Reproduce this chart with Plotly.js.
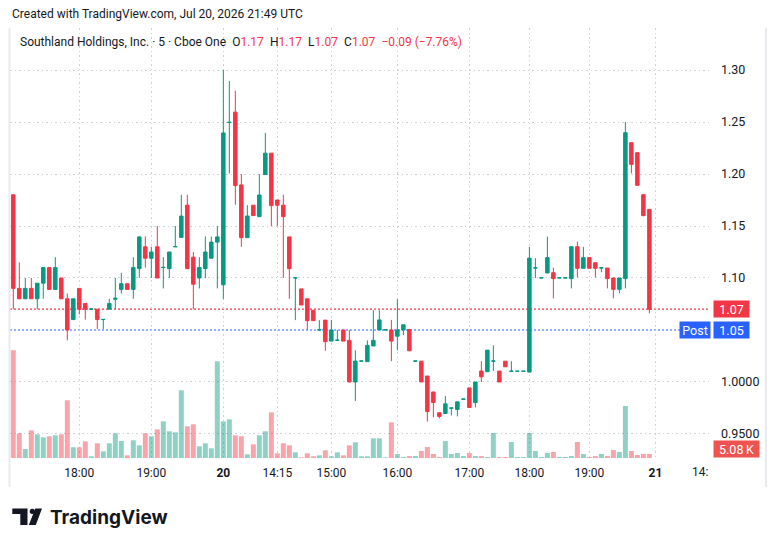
<!DOCTYPE html>
<html><head><meta charset="utf-8">
<script src="https://cdn.plot.ly/plotly-3.0.1.min.js"></script>
<style>html,body{margin:0;padding:0;background:#fff;}#chart{width:776px;height:546px;}</style>
</head><body><div id="chart"></div>
<script>
// ---------- DATA (5-minute bars) ----------
const openP = [1.18,1.09,1.08,1.09,1.08,1.095,1.11,1.089,1.10,1.08,
1.06,1.09,1.0755,1.07,1.07,1.06,1.07,1.0795,1.089,1.0945,
1.089,1.109,1.13,1.119,1.13,1.11,1.109,1.13,1.139,1.17,
1.12,1.10,1.109,1.119,1.1345,1.0935,1.2495,1.2595,1.1895,1.1388,
1.17,1.159,1.1995,1.22,1.175,1.17,1.1395,1.10,1.0895,1.08,
1.069,1.05,1.0595,1.0393,1.04,1.05,1.04,1.00,1.02,1.0195,
1.0346,1.05,1.05,1.05,1.044,1.05,1.0505,1.02,1.02,1.0057,
0.9904,0.9704,0.9697,0.9748,0.9736,0.9834,0.9943,0.9802,1.0105,1.0099,
1.02,1.0105,1.02,1.0102,1.0102,1.0102,1.0095,1.1096,1.10,1.1048,
1.1051,1.10,1.10,1.0994,1.1301,1.1093,1.1196,1.1147,1.1096,1.1096,
1.10,1.0891,1.0994,1.2301,1.2205,1.1801,1.166];
const highP = [1.18,1.115,1.10,1.10,1.095,1.11,1.11,1.12,1.10,1.085,
1.08,1.09,1.0755,1.0702,1.07,1.0602,1.08,1.10,1.105,1.0945,
1.12,1.14,1.14,1.13,1.15,1.12,1.125,1.15,1.18,1.18,
1.125,1.12,1.14,1.14,1.15,1.30,1.2895,1.28,1.20,1.17,
1.17,1.20,1.2395,1.22,1.175,1.18,1.1395,1.1002,1.0895,1.08,
1.069,1.0595,1.0595,1.0597,1.05,1.05,1.05,1.0305,1.0202,1.04,
1.069,1.069,1.0502,1.0597,1.0796,1.055,1.0505,1.0202,1.02,1.0057,
0.9904,0.9704,0.9866,0.975,0.9809,0.9836,0.9943,1.00,1.02,1.0306,
1.0353,1.0105,1.02,1.02,1.0104,1.0104,1.13,1.1191,1.1002,1.1398,
1.11,1.1002,1.1002,1.1301,1.135,1.13,1.1196,1.1147,1.1098,1.1096,
1.10,1.10,1.25,1.2301,1.2205,1.1801,1.166];
const lowP = [1.07,1.08,1.08,1.08,1.07,1.08,1.089,1.089,1.08,1.04,
1.06,1.065,1.06,1.07,1.051,1.051,1.07,1.07,1.085,1.089,
1.08,1.10,1.11,1.10,1.10,1.09,1.10,1.13,1.139,1.109,
1.07,1.09,1.10,1.119,1.09,1.08,1.2005,1.1705,1.13,1.1388,
1.16,1.159,1.1995,1.15,1.15,1.10,1.08,1.0595,1.074,1.05,
1.059,1.05,1.03,1.0393,1.04,1.0393,0.9997,0.9818,1.02,1.0195,
1.0346,1.05,1.05,1.02,1.0305,1.045,1.03,1.02,1.00,0.962,
0.966,0.965,0.9697,0.9678,0.9669,0.9834,0.9755,0.9755,1.00,1.0099,
1.0105,1.00,1.0146,1.0102,1.0102,1.0102,1.0095,1.10,1.10,1.1048,
1.0805,1.10,1.10,1.09,1.1006,1.1093,1.1093,1.1006,1.1055,1.09,
1.0805,1.0853,1.09,1.2006,1.1891,1.1593,1.066];
const closeP = [1.09,1.08,1.09,1.08,1.095,1.11,1.089,1.11,1.08,1.05,
1.08,1.07,1.07,1.0702,1.06,1.0602,1.0755,1.0805,1.0945,1.089,
1.11,1.1395,1.119,1.125,1.10,1.1102,1.125,1.1302,1.1595,1.109,
1.094,1.11,1.125,1.1345,1.1395,1.2395,1.2497,1.189,1.1388,1.1596,
1.16,1.1798,1.22,1.1696,1.17,1.159,1.109,1.1002,1.074,1.059,
1.059,1.0502,1.0388,1.05,1.0402,1.0393,1.00,1.0201,1.0202,1.0352,
1.04,1.0597,1.0502,1.0393,1.05,1.055,1.03,1.0202,1.00,0.9716,
0.9802,0.9669,0.979,0.975,0.9809,0.9836,0.9755,1.00,1.005,1.0306,
1.0202,1.00,1.0146,1.0104,1.0104,1.0104,1.1191,1.1098,1.1002,1.1196,
1.0994,1.1002,1.1002,1.1301,1.1093,1.1196,1.1093,1.1093,1.1098,1.0994,
1.0891,1.10,1.2397,1.2093,1.1891,1.16,1.07];
const volume = [136800,31400,11400,35200,30100,26300,27600,28800,30100,73300,
13600,13600,21200,2200,18700,8500,18700,31400,21600,3400,
22500,16100,31400,27600,36400,46600,33900,32600,86000,40300,
42800,14900,18700,12300,122800,46600,49100,28800,27600,4700,
17400,28800,33900,58000,6000,18700,16100,7200,900,6000,
2200,3400,9800,2200,7200,3400,16100,19900,2200,2200,
25000,25000,900,45300,5100,1300,2500,2500,8900,14000,
5100,1300,21600,5100,6400,2500,6400,2500,2500,1300,
31800,1300,1300,20300,1300,1300,31800,8900,1300,6400,
7600,1300,1300,2500,20300,5100,1300,2500,5100,2500,
10200,7600,66000,8900,3800,5100,5080];
const tickIndex = [11,23,35,44,53,64,76,86,96,107,116];
const tickLabels = ['18:00','19:00','<b>20</b>','14:15','15:00','16:00','17:00','18:00','19:00','<b>21</b>',''];
const priceTicks = [0.95,1.00,1.10,1.15,1.20,1.25,1.30];
const priceTickLabels = ['0.9500','1.0000','1.10','1.15','1.20','1.25','1.30'];
const postPrice = 1.05;
const symbolName = 'Southland Holdings, Inc.';
const intervalName = '5';
const exchangeName = 'Cboe One';
const createdText = 'Created with TradingView.com, Jul 20, 2026 21:49 UTC';

// ---------- BUILD ----------
const UP = '#089981', DOWN = '#F23645';
const idx = openP.map((_, i) => i);
const volColors = closeP.map((c, i) => c >= openP[i] ? 'rgba(8,153,129,0.45)' : 'rgba(242,54,69,0.45)');
const n = closeP.length;
const lastO = openP[n-1], lastH = highP[n-1], lastL = lowP[n-1], lastC = closeP[n-1];
const chg = lastC - closeP[n-2];
const pct = chg / closeP[n-2] * 100;
const fmt = v => v.toFixed(2);
const minus = v => (v < 0 ? '\u2212' : '') + Math.abs(v).toFixed(2);
const red = t => '<span style="color:' + DOWN + '">' + t + '</span>';
const sp = '\u2002';
const legendText = symbolName + ' \u00b7 ' + intervalName + ' \u00b7 ' + exchangeName + sp +
  'O' + red(fmt(lastO)) + sp + 'H' + red(fmt(lastH)) + sp + 'L' + red(fmt(lastL)) + sp + 'C' + red(fmt(lastC)) + sp +
  red(minus(chg) + ' (' + minus(pct) + '%)');
const lastVol = volume[n-1];

const FONT = 'Roboto, "Noto Sans", sans-serif';
const GRID = '#CDD0D6';
const DASH = '1.5px,3px';

// pixel -> paper helper for decorations (plot area x 10..710, y 28..458)
const px = x => (x - 10) / 700;
const py = y => (458 - y) / 430;

const traces = [
  {type:'bar', x: idx, y: volume, yaxis:'y', marker:{color: volColors, line:{width:0}}, hoverinfo:'skip'},
  {type:'candlestick', x: idx, open: openP, high: highP, low: lowP, close: closeP, yaxis:'y2',
   increasing:{line:{color:UP, width:1}, fillcolor:UP},
   decreasing:{line:{color:DOWN, width:1}, fillcolor:DOWN},
   whiskerwidth:0, hoverinfo:'skip'}
];

const logoPath = 'M ' + px(12.3) + ' ' + py(508.5) + ' L ' + px(27.5) + ' ' + py(508.5) + ' L ' + px(27.5) + ' ' + py(525) +
  ' L ' + px(20.3) + ' ' + py(525) + ' L ' + px(20.3) + ' ' + py(514) + ' L ' + px(12.3) + ' ' + py(514) + ' Z';
const slashPath = 'M ' + px(35.3) + ' ' + py(508.5) + ' L ' + px(42) + ' ' + py(508.5) + ' L ' + px(35.8) + ' ' + py(525) +
  ' L ' + px(28.8) + ' ' + py(525) + ' Z';

const layout = {
  width: 776, height: 546,
  margin: {l:10, r:66, t:28, b:88},
  paper_bgcolor:'#ffffff', plot_bgcolor:'#ffffff',
  showlegend:false,
  bargap: 0.17,
  boxgap: 0.17,
  font: {family: FONT, size: 12, color:'#131722'},
  xaxis: {
    range:[-0.55, 116.1], tickmode:'array', tickvals: tickIndex, ticktext: tickLabels,
    showgrid:true, gridcolor: GRID, griddash: DASH, gridwidth:1,
    zeroline:false, showline:false, ticks:'', ticklabelstandoff: 6,
    tickfont:{family: FONT, size:12, color:'#131722'},
    rangeslider:{visible:false}, fixedrange:true
  },
  yaxis: {range:[0, 546100], visible:false, showgrid:false, zeroline:false, fixedrange:true},
  yaxis2: {
    overlaying:'y', side:'right', range:[0.9269, 1.3404],
    tickmode:'array', tickvals: priceTicks, ticktext: priceTickLabels,
    showgrid:true, gridcolor: GRID, griddash: DASH, gridwidth:1,
    zeroline:false, showline:false, ticks:'', ticklabelstandoff: 10,
    tickfont:{family: FONT, size:12.5, color:'#131722'}, fixedrange:true
  },
  shapes: [
    {type:'line', xref:'paper', yref:'y2', x0:0, x1:1, y0:lastC, y1:lastC, layer:'below',
     line:{color: DOWN, width:1.2, dash:'2px,2px'}},
    {type:'line', xref:'paper', yref:'y2', x0:0, x1:1, y0:postPrice, y1:postPrice, layer:'below',
     line:{color:'#2962FF', width:1.2, dash:'2px,2px'}},
    {type:'line', xref:'paper', yref:'paper', x0:px(9.5), x1:px(9.5), y0:py(28), y1:py(487), layer:'above',
     line:{color:'#E8EAEF', width:2}},
    {type:'line', xref:'paper', yref:'paper', x0:px(766), x1:px(766), y0:py(28), y1:py(487), layer:'above',
     line:{color:'#E8EAEF', width:2}},
    {type:'path', xref:'paper', yref:'paper', path: logoPath, fillcolor:'#131722', line:{width:0}},
    {type:'path', xref:'paper', yref:'paper', path: slashPath, fillcolor:'#131722', line:{width:0}},
    {type:'circle', xref:'paper', yref:'paper', x0:px(29.7), x1:px(34.9), y0:py(508.7), y1:py(513.9),
     fillcolor:'#131722', line:{width:0}}
  ],
  annotations: [
    {xref:'paper', yref:'paper', x:px(10), y:py(14), xanchor:'left', yanchor:'middle', showarrow:false,
     text: createdText, font:{family:FONT, size:12, color:'#131722'}},
    {xref:'paper', yref:'paper', x:px(18), y:py(42), xanchor:'left', yanchor:'middle', showarrow:false,
     text: legendText, font:{family:FONT, size:12, color:'#131722'}},
    {xref:'paper', yref:'y2', x:px(713), y:lastC, xanchor:'left', yanchor:'middle', showarrow:false,
     text: fmt(lastC), bgcolor: DOWN, width:31, height:12, borderpad:2, font:{family:FONT, size:12.5, color:'#ffffff'}},
    {xref:'paper', yref:'y2', x:px(713), y:postPrice, xanchor:'left', yanchor:'middle', showarrow:false,
     text: fmt(postPrice), bgcolor:'#2962FF', width:31, height:12, borderpad:2, font:{family:FONT, size:12.5, color:'#ffffff'}},
    {xref:'paper', yref:'y2', x:px(711), y:postPrice, xanchor:'right', yanchor:'middle', showarrow:false,
     text: 'Post', bgcolor:'#2962FF', width:26, height:12, borderpad:2, font:{family:FONT, size:12.5, color:'#ffffff'}},
    {xref:'paper', yref:'paper', x:px(713), y:py(448.5), xanchor:'left', yanchor:'middle', showarrow:false,
     text: (lastVol/1000).toFixed(2) + '\u2009K', bgcolor:'#EF5350', width:41, height:12, borderpad:2,
     font:{family:FONT, size:12.5, color:'#ffffff'}},
    {xref:'paper', yref:'paper', x:px(710), y:py(472), xanchor:'right', yanchor:'middle', showarrow:false,
     text: '14:', font:{family:FONT, size:12, color:'#131722'}},
    {xref:'paper', yref:'paper', x:px(48), y:py(517), xanchor:'left', yanchor:'middle', showarrow:false,
     text: '<b>TradingView</b>', font:{family:'Inter, Roboto, sans-serif', size:19, color:'#131722'}}
  ]
};

Plotly.newPlot('chart', traces, layout, {staticPlot:true, displayModeBar:false});
</script>
</body></html>
